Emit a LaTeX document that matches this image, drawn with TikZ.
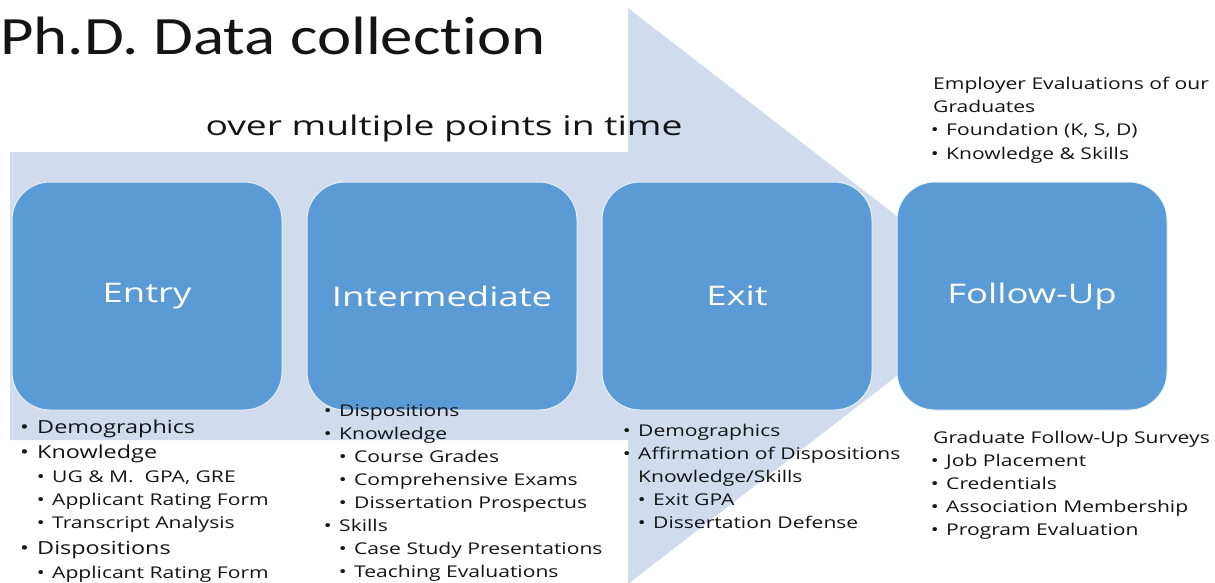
\documentclass[tikz,border=0pt]{standalone}
\usepackage{fontspec}
\setmainfont{Open Sans}
\newfontfamily\titlefont[Ligatures={NoCommon}]{Carlito}
\usepackage{graphicx}
\definecolor{arrowbg}{HTML}{D0DBEE}
\definecolor{boxblue}{HTML}{5B9BD5}
\definecolor{txt}{HTML}{141414}
\newcommand\sx[2][1.3]{\scalebox{#1}[1]{#2}}
\newcommand\bl[1]{\llap{\textbullet\hspace{0.35em}}#1}
\tikzset{
  phase/.style={fill=boxblue, draw=white!85!boxblue, line width=1pt, rounded corners=38pt,
    minimum width=270pt, minimum height=228pt, text=white, inner sep=0pt,
    font=\fontsize{27}{31}\selectfont},
  lstA/.style={anchor=base west, inner sep=0pt, text=txt, font=\fontsize{18}{22}\selectfont},
  lstB/.style={anchor=base west, inner sep=0pt, text=txt, font=\fontsize{16.2}{20}\selectfont},
}
\begin{document}
\begin{tikzpicture}[x=1pt,y=-1pt]
\useasboundingbox (0,0) rectangle (1215,582);
\begin{scope}
\clip (0,0) rectangle (1215,582);
\fill[arrowbg] (10,152) -- (628,152) -- (628,8) -- (1000,296) -- (628,584) -- (628,440) -- (10,440) -- cycle;
\end{scope}
% title
\node[anchor=base west, inner sep=0pt, text=txt, font=\titlefont\fontsize{54}{60}\selectfont] (title) at (0,54) {\sx[1.2]{Ph.D. Data collection}};
\node[anchor=base, inner sep=0pt, text=txt, font=\fontsize{27}{31}\selectfont] (sub) at (444,135) {\sx[1.38]{over multiple points in time}};
% phases
\node[phase] (entry) at (147,296) {\sx[1.35]{Entry}};
\node[phase] (inter) at (442,296) {\sx[1.35]{Intermediate}};
\node[phase] (exit) at (737,296) {\sx[1.35]{Exit}};
\node[phase] (follow) at (1032,296) {\sx[1.35]{Follow-Up}};
% entry list
\node[lstA] (e1) at (37,433) {\sx{\bl{Demographics}}};
\node[lstA] (e2) at (37,458) {\sx{\bl{Knowledge}}};
\node[lstB] (e3) at (52,482) {\sx{\bl{UG \& M.\ \ GPA, GRE}}};
\node[lstB] (e4) at (52,505) {\sx{\bl{Applicant Rating Form}}};
\node[lstB] (e5) at (52,528) {\sx{\bl{Transcript Analysis}}};
\node[lstA] (e6) at (37,554) {\sx{\bl{Dispositions}}};
\node[lstB] (e7) at (52,578) {\sx{\bl{Applicant Rating Form}}};
% intermediate list
\node[lstB] (i1) at (339,416) {\sx{\bl{Dispositions}}};
\node[lstB] (i2) at (339,439) {\sx{\bl{Knowledge}}};
\node[lstB] (i3) at (354,462) {\sx{\bl{Course Grades}}};
\node[lstB] (i4) at (354,485) {\sx{\bl{Comprehensive Exams}}};
\node[lstB] (i5) at (354,508) {\sx{\bl{Dissertation Prospectus}}};
\node[lstB] (i6) at (339,531) {\sx{\bl{Skills}}};
\node[lstB] (i7) at (354,554) {\sx{\bl{Case Study Presentations}}};
\node[lstB] (i8) at (354,577) {\sx{\bl{Teaching Evaluations}}};
% exit list
\node[lstB] (x1) at (638,436) {\sx{\bl{Demographics}}};
\node[lstB] (x2) at (638,459) {\sx{\bl{Affirmation of Dispositions}}};
\node[lstB] (x3) at (638,482) {\sx{Knowledge/Skills}};
\node[lstB] (x4) at (653,505) {\sx{\bl{Exit GPA}}};
\node[lstB] (x5) at (653,528) {\sx{\bl{Dissertation Defense}}};
% follow-up upper
\node[lstB] (u1) at (933,89) {\sx{Employer Evaluations of our}};
\node[lstB] (u2) at (933,112) {\sx{Graduates}};
\node[lstB] (u3) at (946,135) {\sx{\bl{Foundation (K, S, D)}}};
\node[lstB] (u4) at (946,159) {\sx{\bl{Knowledge \& Skills}}};
% follow-up lower
\node[lstB] (l1) at (933,443) {\sx{Graduate Follow-Up Surveys}};
\node[lstB] (l2) at (946,466) {\sx{\bl{Job Placement}}};
\node[lstB] (l3) at (946,489) {\sx{\bl{Credentials}}};
\node[lstB] (l4) at (946,512) {\sx{\bl{Association Membership}}};
\node[lstB] (l5) at (946,535) {\sx{\bl{Program Evaluation}}};
\end{tikzpicture}
\end{document}
